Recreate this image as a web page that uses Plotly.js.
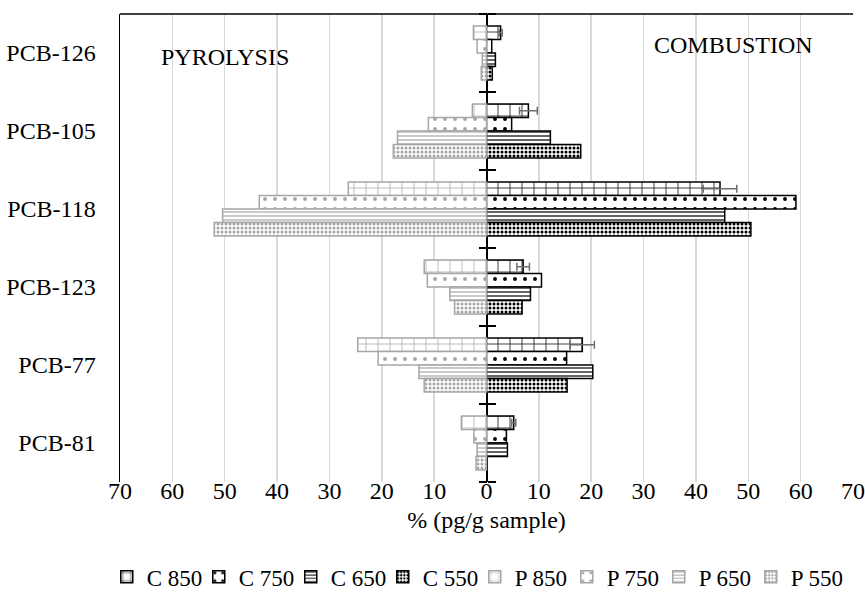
<!DOCTYPE html>
<html>
<head>
<meta charset="utf-8">
<script src="https://cdn.plot.ly/plotly-3.0.1.min.js"></script>
<style>html,body{margin:0;padding:0;background:#fff}#chart{width:865px;height:604px}</style>
</head>
<body>
<div id="chart"></div>
<script>
const categories = ['PCB-126','PCB-105','PCB-118','PCB-123','PCB-77','PCB-81'];
// Combustion (positive side)
const C850 = [2.7, 8.0, 44.6, 7.0, 18.3, 5.2];
const C850err = [0.3, 1.7, 3.2, 1.2, 2.3, 0.4];
const C750 = [1.0, 4.8, 59.1, 10.5, 15.3, 3.8];
const C650 = [1.7, 12.2, 45.5, 8.4, 20.3, 4.0];
const C550 = [1.1, 18.0, 50.5, 6.8, 15.4, 0];
// Pyrolysis (drawn to the left, stored as positive magnitudes)
const P850 = [2.5, 2.7, 26.4, 11.9, 24.6, 4.8];
const P750 = [1.8, 11.1, 43.4, 11.3, 20.7, 2.4];
const P650 = [0.8, 17.0, 50.4, 7.0, 12.9, 1.8];
const P550 = [1.0, 17.8, 52.0, 6.1, 11.9, 2.0];
const tickVals = [-70,-60,-50,-40,-30,-20,-10,0,10,20,30,40,50,60,70];
const tickText = ['70','60','50','40','30','20','10','0','10','20','30','40','50','60','70'];
const boundaryVals = [-0.5,0.5,1.5,2.5,3.5,4.5,5.5];

const BLACK = '#000000', GREY = '#a6a6a6';
const patterns = {
  '850': {shape:'+', size:12, solidity:0.12},
  '750': {shape:'.', size:10, solidity:0.12},
  '650': {shape:'-', size:4, solidity:0.3},
  '550': {shape:'.', size:4, solidity:0.45}
};
function bar(name, vals, grp, color, sign, err) {
  const p = patterns[grp];
  const t = {
    type:'bar', orientation:'h', name:name,
    y: categories, x: vals.map(v => sign*v),
    offsetgroup: grp,
    marker: {color:'#ffffff', line:{color:color, width:1.5},
      pattern:{shape:p.shape, size:p.size, solidity:p.solidity, fgcolor:color, bgcolor:'#ffffff', fillmode:'replace'}},
    hoverinfo:'skip'
  };
  if (err) t.error_x = {type:'data', array:err, visible:true, color:'#6f6f6f', thickness:1.5, width:4};
  return t;
}
const data = [
  bar('C 850', C850, '850', BLACK, 1, C850err),
  bar('C 750', C750, '750', BLACK, 1),
  bar('C 650', C650, '650', BLACK, 1),
  bar('C 550', C550, '550', BLACK, 1),
  bar('P 850', P850, '850', GREY, -1),
  bar('P 750', P750, '750', GREY, -1),
  bar('P 650', P650, '650', GREY, -1),
  bar('P 550', P550, '550', GREY, -1),
  {type:'scatter', x:[], y:[], yaxis:'y2', showlegend:false, hoverinfo:'skip'},
  {type:'scatter', x:[], y:[], yaxis:'y3', showlegend:false, hoverinfo:'skip'}
];
const FONT = 'Liberation Serif';
const FS = 24;
const layout = {
  width:865, height:604,
  margin:{l:120, r:12, t:14, b:122},
  paper_bgcolor:'#fff', plot_bgcolor:'#fff',
  font:{family:FONT, size:FS, color:'#000'},
  barmode:'group', bargap:0.31, bargroupgap:0,
  showlegend:true,
  legend:{orientation:'h', x:0.484, xref:'paper', xanchor:'center', y:0.045, yref:'container', yanchor:'middle',
    font:{family:FONT, size:23}, itemwidth:30, entrywidth:47, entrywidthmode:'pixels', traceorder:'normal', tracegroupgap:0},
  xaxis:{range:[-70,70], tickvals:tickVals, ticktext:tickText, showgrid:true, automargin:false,
    gridcolor:'#d9d9d9', gridwidth:1.5, zeroline:true, zerolinecolor:'#000', zerolinewidth:2,
    showline:false, ticks:'', ticklabelstandoff:-8, tickfont:{family:FONT, size:FS},
    title:{text:'% (pg/g sample)', font:{family:FONT, size:FS}, standoff:8}},
  yaxis:{type:'category', categoryarray:categories, range:[5.5,-0.5], showgrid:false, automargin:false,
    zeroline:false, showline:true, linecolor:'#000', linewidth:1.5, ticks:'',
    ticklabelstandoff:18, tickfont:{family:FONT, size:FS}},
  yaxis2:{overlaying:'y', anchor:'free', position:0.5, range:[5.5,-0.5], automargin:false,
    tickvals:boundaryVals, showticklabels:false, ticks:'outside',
    ticklen:8, tickcolor:'#000', tickwidth:1.5, showgrid:false, zeroline:false, showline:false},
  yaxis3:{overlaying:'y', anchor:'free', position:0.5, side:'right', range:[5.5,-0.5], automargin:false,
    tickvals:boundaryVals, showticklabels:false, ticks:'outside',
    ticklen:8, tickcolor:'#000', tickwidth:1.5, showgrid:false, zeroline:false, showline:false},
  shapes:[{type:'line', xref:'paper', yref:'paper', x0:0, x1:1, y0:1, y1:1, line:{color:'#000', width:1.5}}],
  annotations:[
    {text:'PYROLYSIS', xref:'paper', yref:'paper', x:0.143, y:0.908, xanchor:'center', yanchor:'middle', showarrow:false, font:{family:FONT, size:FS}},
    {text:'COMBUSTION', xref:'paper', yref:'paper', x:0.837, y:0.934, xanchor:'center', yanchor:'middle', showarrow:false, font:{family:FONT, size:FS}}
  ]
};
Plotly.newPlot('chart', data, layout, {displayModeBar:false, staticPlot:true});
</script>
</body>
</html>
